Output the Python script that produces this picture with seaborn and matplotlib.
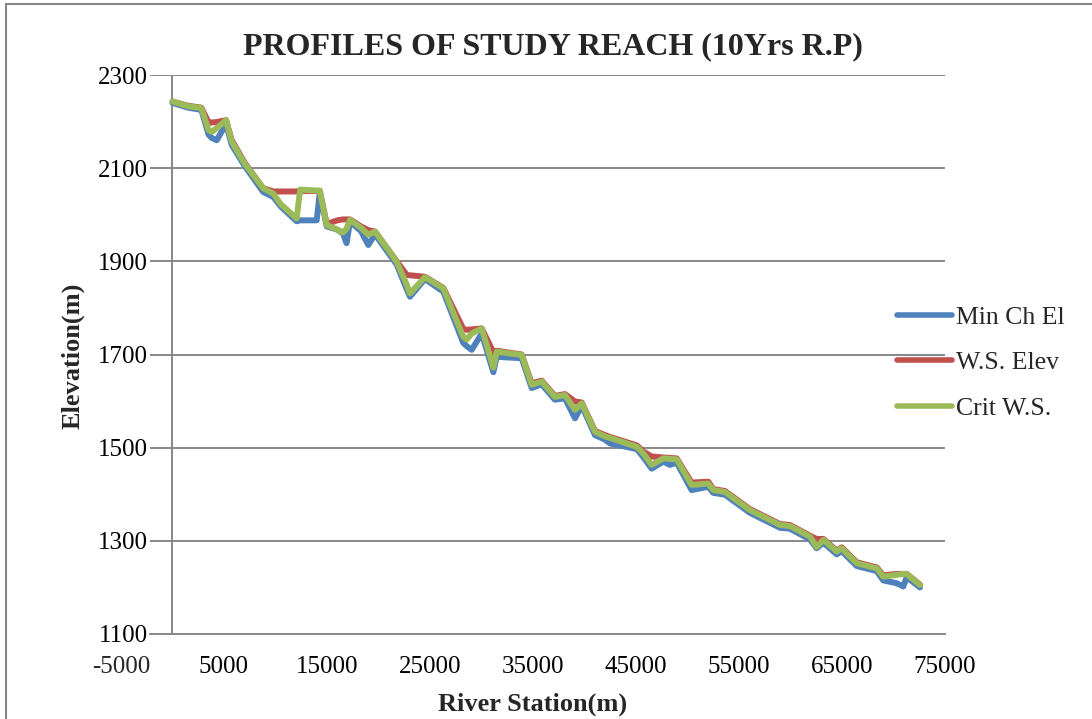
import matplotlib
matplotlib.use("Agg")
import matplotlib.pyplot as plt
from matplotlib.patches import Rectangle
import numpy as np
import pandas as pd
import seaborn as sns

# River stations (m) along the study reach
station = [0, 1500, 2800, 3500, 3800, 4300, 5200, 5750, 7000, 8800, 9800, 10500,
           12050, 12400, 14000, 14300, 14970, 16000, 16550, 16900, 17230, 18300,
           19010, 19660, 21770, 22740, 23060, 24500, 26290, 28230, 28560, 29050,
           30020, 31150, 31480, 33900, 34870, 35840, 37130, 38100, 39080, 39730,
           41020, 42000, 42480, 45070, 45700, 46520, 47650, 48300, 48950, 50400,
           52020, 52500, 53640, 56070, 58980, 59950, 61890, 62540, 63190, 64490,
           64970, 66430, 68370, 69010, 70310, 70950, 71280, 72570]

# Minimum channel elevation (m)
min_ch_el = [2240, 2230, 2225, 2172, 2165, 2160, 2195, 2150, 2105, 2049, 2038, 2018,
             1986, 1988, 1988, 2048, 1975, 1968, 1960, 1939, 1985, 1965,
             1935, 1958, 1893, 1840, 1824, 1862, 1835, 1725, 1718, 1710,
             1745, 1662, 1695, 1692, 1628, 1636, 1603, 1606, 1563, 1590,
             1527, 1517, 1509, 1497, 1480, 1455, 1470, 1463, 1468, 1409,
             1416, 1403, 1399, 1360, 1328, 1326, 1303, 1284, 1296, 1271,
             1278, 1246, 1235, 1215, 1209, 1202, 1222, 1200]

# Water surface elevation (m)
ws_elev = [2243, 2234, 2230, 2198, 2198, 2199, 2203, 2160, 2112, 2057, 2050, 2050,
           2050, 2051, 2051, 2051, 1980, 1988, 1990, 1990, 1990, 1975,
           1967, 1964, 1900, 1871, 1870, 1867, 1843, 1755, 1753, 1754,
           1756, 1705, 1708, 1700, 1638, 1644, 1611, 1615, 1599, 1597,
           1536, 1527, 1523, 1505, 1492, 1481, 1479, 1478, 1477, 1425,
           1427, 1411, 1407, 1368, 1336, 1334, 1311, 1304, 1304, 1279,
           1286, 1254, 1243, 1226, 1229, 1229, 1229, 1206]

# Critical water surface elevation (m)
crit_ws = [2243, 2233, 2229, 2182, 2178, 2186, 2203, 2157, 2110, 2057, 2045, 2023,
           1992, 2054, 2052, 2052, 1978, 1968, 1962, 1970, 1989, 1972,
           1957, 1964, 1899, 1850, 1831, 1866, 1842, 1738, 1732, 1745,
           1756, 1672, 1706, 1699, 1635, 1642, 1609, 1613, 1581, 1595,
           1534, 1524, 1521, 1502, 1488, 1463, 1477, 1476, 1475, 1420,
           1423, 1409, 1405, 1366, 1334, 1332, 1309, 1287, 1302, 1277,
           1284, 1252, 1241, 1223, 1227, 1229, 1229, 1205]

series_names = ["Min Ch El", "W.S. Elev", "Crit W.S."]
series_colors = ["#4F81BD", "#C0504D", "#9BBB59"]

x_ticks = list(range(5000, 75001, 10000))
y_ticks = list(range(1100, 2301, 200))

df = pd.DataFrame({"station": station,
                   series_names[0]: min_ch_el,
                   series_names[1]: ws_elev,
                   series_names[2]: crit_ws})
long_df = df.melt(id_vars="station", var_name="series", value_name="elev")

sns.set_theme(style="white")
plt.rcParams["font.family"] = ["Liberation Serif", "DejaVu Serif"]

W, H = 1092, 719
fig = plt.figure(figsize=(W / 100, H / 100), dpi=100)
ax = fig.add_axes([150 / W, 1 - 634 / H, (945 - 150) / W, (634 - 75) / H])

grid_color = "#888888"

sns.lineplot(data=long_df, x="station", y="elev", hue="series",
             hue_order=series_names, palette=series_colors,
             sort=False, estimator=None, linewidth=4.3, ax=ax,
             legend=True)
for line in ax.lines:
    line.set_solid_joinstyle("round")
    line.set_solid_capstyle("round")

x_left = -2184
ax.set_xlim(x_left, 75000)
ax.set_ylim(1100, 2300)
ax.set_xticks(x_ticks)
ax.set_yticks(y_ticks)
ax.set_xticklabels([str(t) for t in x_ticks], fontsize=18)
ax.set_yticklabels([str(t) for t in y_ticks], fontsize=18)
ax.set_xlabel("")
ax.set_ylabel("")

ax.yaxis.grid(True, color=grid_color, linewidth=1.4)
ax.set_axisbelow(True)
ax.axvline(0, color=grid_color, linewidth=1.4, zorder=1)

for side in ["top", "right", "left"]:
    ax.spines[side].set_visible(False)
ax.spines["bottom"].set_color(grid_color)
ax.spines["bottom"].set_linewidth(1.4)

ax.tick_params(axis="y", length=0, pad=1.5, colors="black")
ax.tick_params(axis="x", length=5, width=1.4, color=grid_color, pad=10.5,
               labelcolor="black", direction="out")

# Leftmost axis label sits beyond the plotted range
ax.text(-5000, -0.0395, "-5000", transform=ax.get_xaxis_transform(),
        ha="center", va="top", fontsize=18, clip_on=False)

# Legend at the right of the plot
handles, labels = ax.get_legend_handles_labels()
ax.get_legend().remove()
for h in handles:
    h.set_linewidth(4.0)
    h.set_solid_capstyle("round")
fig.legend(handles, labels, loc="center left",
           bbox_to_anchor=(897 / W, 1 - 362.7 / H), frameon=False,
           fontsize=18.5, handlelength=2.15, handletextpad=0.15,
           labelspacing=0.88, borderpad=0, borderaxespad=0)

fig.text(552.5 / W, 1 - 47 / H, "PROFILES OF STUDY REACH (10Yrs R.P)",
         ha="center", va="center", fontsize=23, fontweight="bold")
fig.text(533 / W, 1 - 704 / H, "River Station(m)", ha="center", va="center",
         fontsize=19, fontweight="bold")
fig.text(72.5 / W, 1 - 356 / H, "Elevation(m)", ha="center", va="center",
         fontsize=19, fontweight="bold", rotation=90)

# Chart border
fig.add_artist(Rectangle((6 / W, -0.05), 1.2, 1.05 - 4 / H,
                         transform=fig.transFigure, fill=False,
                         edgecolor=grid_color, linewidth=1.5))

fig.savefig("out.png", dpi=100)
